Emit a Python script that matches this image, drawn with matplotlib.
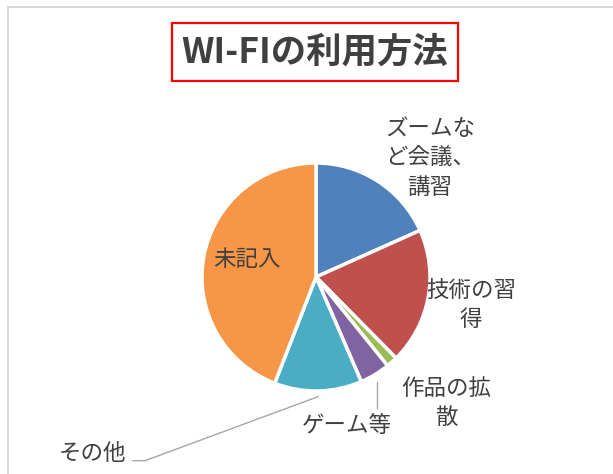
import matplotlib
matplotlib.use("Agg")
import matplotlib.pyplot as plt
from matplotlib.patches import Rectangle

plt.rcParams['font.family'] = ['Noto Sans CJK JP', 'DejaVu Sans']

# ---- data ----
categories = ["ズームなど会議、講習", "技術の習得", "作品の拡散", "ゲーム等", "その他", "未記入"]
display_labels = ["ズームな\nど会議、\n講習", "技術の習\n得", "作品の拡\n散", "ゲーム等", "その他", "未記入"]
values = [18.3, 19.3, 1.6, 4.3, 12.4, 44.1]
title = "WI-FIの利用方法"

# ---- style ----
colors = ["#4F81BD", "#C0504D", "#9BBB59", "#8064A2", "#4BACC6", "#F79646"]
text_color = "#404040"
W, H = 613, 474
label_pos = [(430, 158), (471, 305), (446, 403), (347, 425), (93, 454), (247, 260)]

fig = plt.figure(figsize=(W / 100, H / 100), dpi=100)
ax = fig.add_axes([0, 0, 1, 1])

cx, cy, r = 316, H - 277, 114
wedges, _ = ax.pie(values, colors=colors, startangle=90, counterclock=False,
                   center=(cx, cy), radius=r, frame=True,
                   wedgeprops=dict(edgecolor="white", linewidth=2.5))
ax.set_xlim(0, W)
ax.set_ylim(0, H)
ax.set_aspect("equal")
ax.axis("off")

for lab, (x, y) in zip(display_labels, label_pos):
    ax.text(x, H - y, lab, ha="center", va="center", fontsize=16.2,
            color=text_color, linespacing=1.38)

# leader lines
lc = "#a6a6a6"
ax.plot([133, 145, 318], [H - 460.7, H - 460.7, H - 396.7], color=lc, lw=1)
ax.plot([376.7, 376.7], [H - 382, H - 408], color=lc, lw=1)

# title with red box
ax.add_patch(Rectangle((171.7, H - 80.7), 286, 57.4, fill=False,
                       edgecolor="#ff0000", linewidth=1.6))
ax.text(314.7, H - 52, title, ha="center", va="center", fontsize=25.5,
        fontweight="bold", color=text_color)

# chart area border (partially visible)
bc = "#d9d9d9"
ax.plot([8, 8], [0, H - 7], color=bc, lw=1.5)
ax.plot([8, W], [H - 7, H - 7], color=bc, lw=1.5)

fig.savefig("out.png", dpi=100)
